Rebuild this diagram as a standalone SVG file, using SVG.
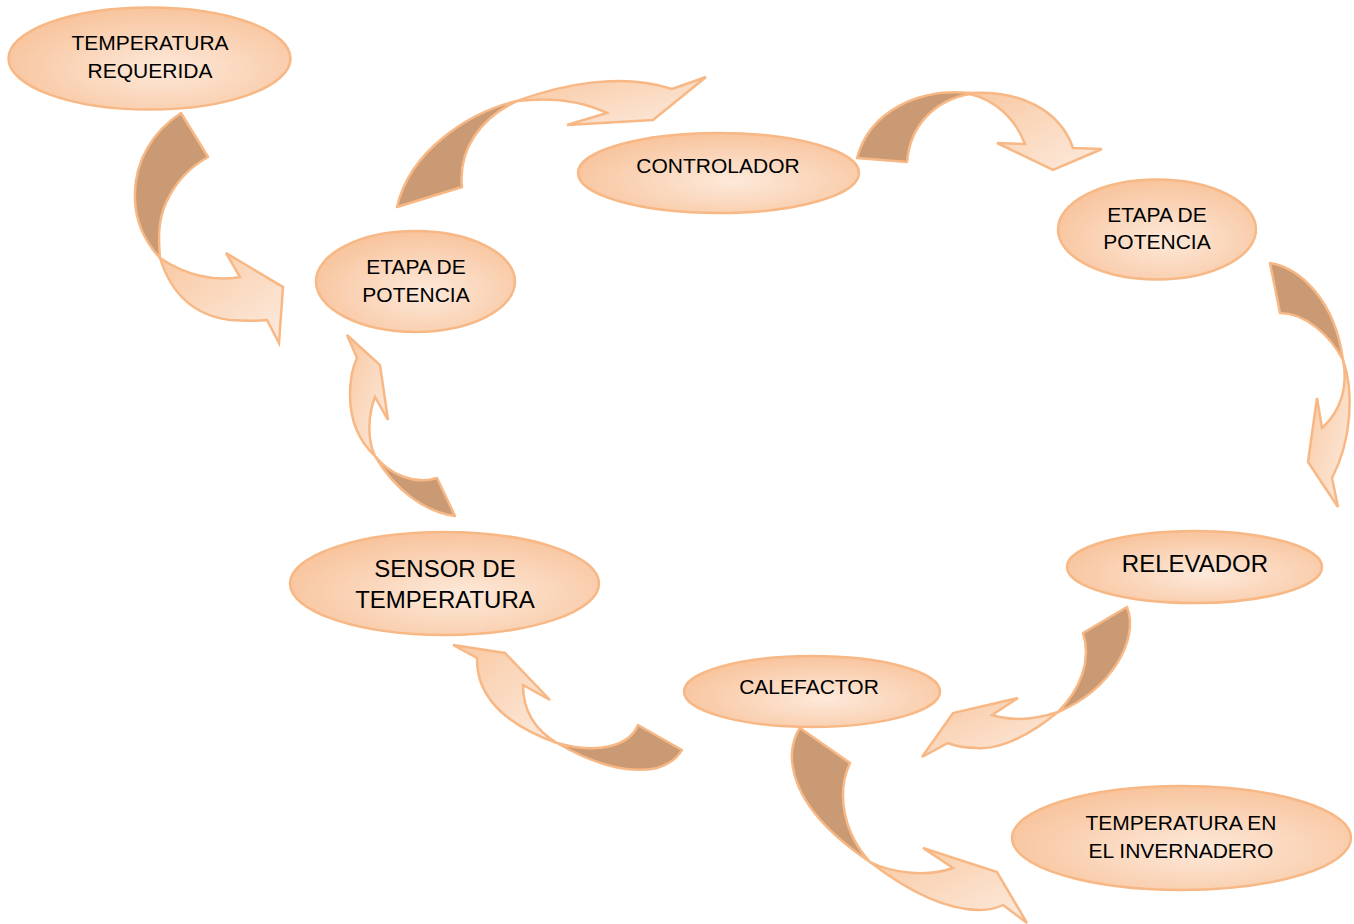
<svg xmlns="http://www.w3.org/2000/svg" width="1354" height="924" viewBox="0 0 1354 924">
<defs>
<radialGradient id="eg" cx="0.55" cy="0.6" r="0.6">
<stop offset="0" stop-color="#fde9da"/>
<stop offset="1" stop-color="#f8c49d"/>
</radialGradient>
<linearGradient id="ag" x1="0" y1="0" x2="1" y2="1">
<stop offset="0" stop-color="#f9c8a1"/>
<stop offset="1" stop-color="#fcebdf"/>
</linearGradient>
</defs>
<style>
.node ellipse{fill:url(#eg);stroke:#f7b885;stroke-width:2.5}
.node text{font-family:"Liberation Sans",Arial,sans-serif;font-size:21px;fill:#000;text-anchor:middle}
.node text.big{font-size:24px}
.dk{fill:#c99a73;stroke:#f7b885;stroke-width:2.5;stroke-linejoin:round}
.lt{fill:url(#ag);stroke:#f7b885;stroke-width:2.5;stroke-linejoin:miter}
</style>
<g id="connectors">
<g id="a1"><path class="dk" d="M181,113 L208,157 C192,166 178,180 170,195 C158,215 158,235 160,258 C148,245 136,225 135,200 C133,160 155,130 181,113 Z"/>
<path class="lt" d="M160,258 C170,290 190,315 230,320 C245,321 257,321 267,320 L279,343 L283,287 L226,253 L240,277 C215,282 185,275 160,258 Z"/></g>
<g id="a2"><path class="dk" d="M517,101 C470,112 410,150 397,207 L462,187 C458,150 480,118 517,101 Z"/>
<path class="lt" d="M517,101 C560,85 620,72 672,89 L706,77 L653,120 L567,125 L607,113 C580,100 550,97 517,101 Z"/></g>
<g id="a3"><path class="dk" d="M970,93 C920,88 870,110 857,158 L907,162 C910,125 935,100 970,94 Z"/>
<path class="lt" d="M970,93 C1020,90 1060,110 1073,148 L1102,149 L1053,170 L997,143 L1025,144 C1015,118 995,100 970,94 Z"/></g>
<g id="a4"><path class="dk" d="M1270,263 C1300,268 1335,300 1343,360 C1330,335 1305,313 1280,313 Z"/>
<path class="lt" d="M1343,360 C1354,390 1352,440 1332,478 L1338,507 L1308,462 L1317,398 L1322,428 C1342,410 1348,385 1343,360 Z"/></g>
<g id="a5"><path class="dk" d="M375,456 C395,490 425,512 455,516 L437,478 C415,485 390,475 375,456 Z"/>
<path class="lt" d="M347,335 L380,365 L388,420 L375,397 C368,415 367,440 375,456 C358,440 350,418 350,395 C350,378 353,366 357,358 Z"/></g>
<g id="a6"><path class="dk" d="M1083,633 L1127,607 C1140,640 1110,690 1058,712 C1080,690 1092,660 1083,633 Z"/>
<path class="lt" d="M1058,712 C1030,735 1000,750 977,748 C965,748 955,746 948,743 L922,757 L953,713 L1018,698 L992,715 C1015,722 1040,718 1058,712 Z"/></g>
<g id="a7"><path class="dk" d="M557,743 C590,762 625,775 657,768 C670,764 678,757 682,750 L638,725 C630,745 600,755 557,743 Z"/>
<path class="lt" d="M453,645 L505,653 L550,700 L523,685 C523,710 535,730 557,743 C520,730 490,710 480,680 C477,670 477,663 477,658 Z"/></g>
<g id="a8"><path class="dk" d="M800,728 L850,763 C835,795 845,835 870,862 C830,835 795,800 792,760 C791,748 795,735 800,728 Z"/>
<path class="lt" d="M870,862 C900,885 940,910 980,910 C990,910 997,908 1003,905 L1027,923 L997,872 L923,848 L953,868 C925,878 890,872 870,862 Z"/></g>
</g>
<g id="n1" class="node"><ellipse cx="149.5" cy="58.5" rx="141" ry="51"/><text x="150" y="50">TEMPERATURA</text><text x="150" y="78">REQUERIDA</text></g>
<g id="n2" class="node"><ellipse cx="718.5" cy="173" rx="140.5" ry="40"/><text x="718" y="173">CONTROLADOR</text></g>
<g id="n3" class="node"><ellipse cx="1157" cy="229.5" rx="99" ry="50"/><text x="1157" y="222">ETAPA DE</text><text x="1157" y="249">POTENCIA</text></g>
<g id="n4" class="node"><ellipse cx="415.5" cy="281.5" rx="99.5" ry="50.5"/><text x="416" y="274">ETAPA DE</text><text x="416" y="302">POTENCIA</text></g>
<g id="n5" class="node"><ellipse cx="444.5" cy="583.5" rx="154.5" ry="51.5"/><text class="big" x="445" y="577">SENSOR DE</text><text class="big" x="445" y="608">TEMPERATURA</text></g>
<g id="n6" class="node"><ellipse cx="1194.5" cy="567" rx="127.5" ry="36"/><text class="big" x="1195" y="572">RELEVADOR</text></g>
<g id="n7" class="node"><ellipse cx="812" cy="691.5" rx="128" ry="35.5"/><text x="809" y="694">CALEFACTOR</text></g>
<g id="n8" class="node"><ellipse cx="1181.5" cy="838" rx="169.5" ry="52"/><text x="1181" y="830">TEMPERATURA EN</text><text x="1181" y="858">EL INVERNADERO</text></g>
</svg>
